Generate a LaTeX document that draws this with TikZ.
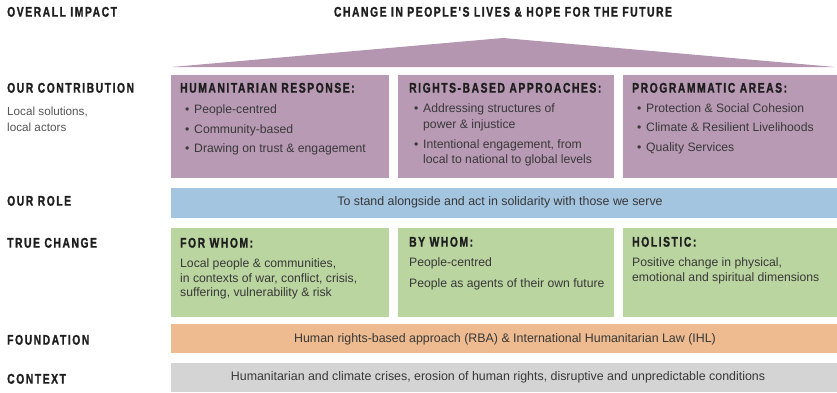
\documentclass[tikz,border=0pt]{standalone}
\usepackage{fontspec}
\setmainfont{Liberation Sans}
\newfontfamily\headfont[FakeStretch=0.74,LetterSpace=11,FakeBold=1.2]{Liberation Sans}
\definecolor{mauve}{HTML}{B99AB5}
\definecolor{roofc}{HTML}{B596B1}
\definecolor{bluec}{HTML}{A4C5E0}
\definecolor{greenc}{HTML}{BAD5A0}
\definecolor{orangec}{HTML}{EDBB8F}
\definecolor{greyc}{HTML}{D4D4D4}
\definecolor{headc}{HTML}{1E1E1E}
\definecolor{bodyc}{HTML}{383838}
\definecolor{sidec}{HTML}{555555}
\newcommand{\bul}{\makebox[9pt][l]{•}}
\begin{document}
\begin{tikzpicture}[x=1pt,y=-1pt,
  panel/.style={fill=#1, draw=none, inner sep=0, anchor=north west},
  hd/.style={font=\headfont\bfseries\fontsize{14}{16}\selectfont, text=headc, anchor=mid west, inner sep=0},
  tx/.style={font=\fontsize{12.2}{14}\selectfont, text=bodyc, anchor=mid west, inner sep=0},
  side/.style={font=\fontsize{11.7}{14}\selectfont, text=sidec, anchor=mid west, inner sep=0},
  ctr/.style={font=\fontsize{12.4}{14}\selectfont, text=bodyc, anchor=mid, inner sep=0}]
\useasboundingbox (0,0) rectangle (837,392);
\fill[white] (0,0) rectangle (837,392);

% roof
\fill[roofc] (172,67) -- (503,38) -- (835,67) -- cycle;

% panels
\node[panel=mauve, minimum width=218pt, minimum height=103pt] (hr) at (171,75) {};
\node[panel=mauve, minimum width=216pt, minimum height=103pt] (rb) at (398,75) {};
\node[panel=mauve, minimum width=214pt, minimum height=103pt] (pa) at (623,75) {};
\node[panel=bluec, minimum width=666pt, minimum height=30pt] (role) at (171,188) {};
\node[panel=greenc, minimum width=218pt, minimum height=89pt] (fw) at (171,228) {};
\node[panel=greenc, minimum width=216pt, minimum height=89pt] (bw) at (398,228) {};
\node[panel=greenc, minimum width=214pt, minimum height=89pt] (ho) at (623,228) {};
\node[panel=orangec, minimum width=666pt, minimum height=29pt] (fd) at (171,324) {};
\node[panel=greyc, minimum width=666pt, minimum height=29pt] (cx) at (171,363) {};

% left labels
\node[hd] (l1) at (7,14) {OVERALL IMPACT};
\node[hd] (l2) at (7,90) {OUR CONTRIBUTION};
\node[side] (l2a) at (7,113) {Local solutions,};
\node[side] (l2b) at (7,129) {local actors};
\node[hd] (l3) at (7,203) {OUR ROLE};
\node[hd] (l4) at (7,245) {TRUE CHANGE};
\node[hd] (l5) at (7,342) {FOUNDATION};
\node[hd] (l6) at (7,381) {CONTEXT};

% title
\node[hd, anchor=mid] (title) at (503,14) {CHANGE IN PEOPLE'S LIVES \& HOPE FOR THE FUTURE};

% contribution texts
\node[hd] (hrh) at (180,90) {HUMANITARIAN RESPONSE:};
\node[tx] (hr1) at (185,111) {\bul People-centred};
\node[tx] (hr2) at (185,131) {\bul Community-based};
\node[tx] (hr3) at (185,150) {\bul Drawing on trust \& engagement};

\node[hd] (rbh) at (409,90) {RIGHTS-BASED APPROACHES:};
\node[tx] (rb1) at (414,110) {\bul Addressing structures of};
\node[tx] (rb1b) at (423,126) {power \& injustice};
\node[tx] (rb2) at (414,146) {\bul Intentional engagement, from};
\node[tx] (rb2b) at (423,161) {local to national to global levels};

\node[hd] (pah) at (632,90) {PROGRAMMATIC AREAS:};
\node[tx] (pa1) at (637,110) {\bul Protection \& Social Cohesion};
\node[tx] (pa2) at (637,129) {\bul Climate \& Resilient Livelihoods};
\node[tx] (pa3) at (637,149) {\bul Quality Services};

% role
\node[ctr] (roletx) at (500,203) {To stand alongside and act in solidarity with those we serve};

% true change texts
\node[hd] (fwh) at (180,245) {FOR WHOM:};
\node[tx] (fw1) at (180,265) {Local people \& communities,};
\node[tx] (fw2) at (180,280) {in contexts of war, conflict, crisis,};
\node[tx] (fw3) at (180,294) {suffering, vulnerability \& risk};

\node[hd] (bwh) at (409,244) {BY WHOM:};
\node[tx] (bw1) at (409,264) {People-centred};
\node[tx] (bw2) at (409,285) {People as agents of their own future};

\node[hd] (hoh) at (632,244) {HOLISTIC:};
\node[tx] (ho1) at (632,264) {Positive change in physical,};
\node[tx] (ho2) at (632,279) {emotional and spiritual dimensions};

% foundation and context
\node[ctr] (fdtx) at (505,340) {Human rights-based approach (RBA) \& International Humanitarian Law (IHL)};
\node[ctr] (cxtx) at (498,378) {Humanitarian and climate crises, erosion of human rights, disruptive and unpredictable conditions};
\end{tikzpicture}
\end{document}
